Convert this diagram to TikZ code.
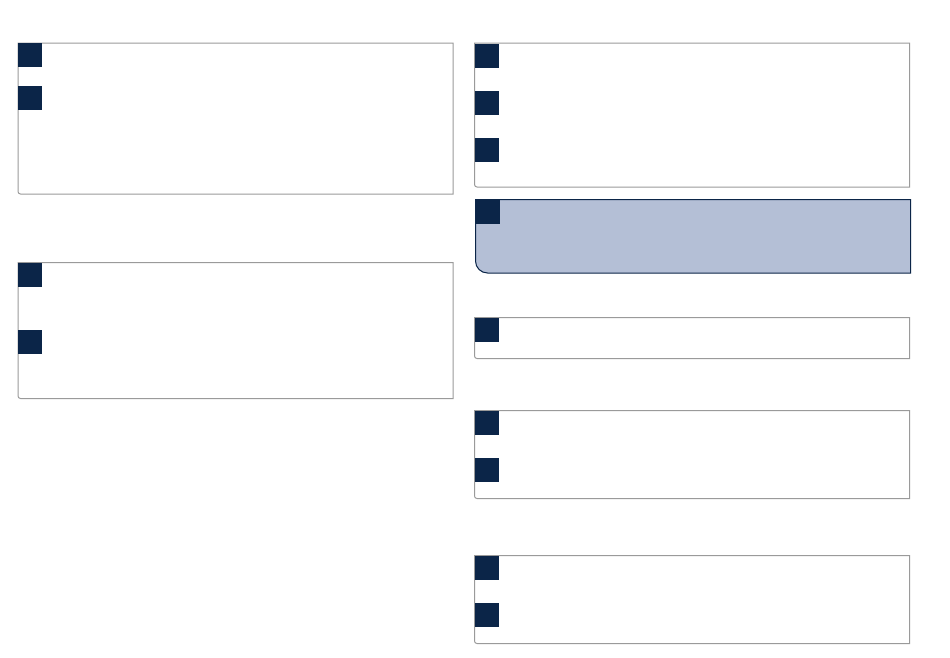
\documentclass[tikz,border=0pt]{standalone}
\definecolor{navy}{HTML}{0B2548}
\definecolor{panelblue}{HTML}{B4BFD6}
\definecolor{framegray}{HTML}{9A9A9A}
\tikzset{
  frame/.style={draw=framegray, line width=1pt},
  hiframe/.style={draw=navy, fill=panelblue, line width=1pt},
  marker/.style={fill=navy, draw=none, minimum width=24pt, minimum height=24pt, inner sep=0pt, anchor=north west}
}
\begin{document}
\begin{tikzpicture}[x=1pt,y=-1pt]
\useasboundingbox (0,0) rectangle (950,657);
% left column
\draw[frame] (18,43) -- (453,43) -- (453,194) [rounded corners=2.5pt] -- (18,194) [sharp corners] -- cycle;
\node[marker] (l1a) at (18,43) {};
\node[marker] (l1b) at (18,86) {};
\draw[frame] (18,262.5) -- (453,262.5) -- (453,398.5) [rounded corners=2.5pt] -- (18,398.5) [sharp corners] -- cycle;
\node[marker] (l2a) at (18,262.5) {};
\node[marker] (l2b) at (18,330) {};
% right column
\draw[frame] (474.5,43) -- (909.5,43) -- (909.5,187) [rounded corners=2.5pt] -- (474.5,187) [sharp corners] -- cycle;
\node[marker] (r1a) at (474.5,43.3) {};
\node[marker] (r1b) at (474.5,90.3) {};
\node[marker] (r1c) at (474.5,137.5) {};
\draw[hiframe] (475.5,199.5) -- (910.5,199.5) -- (910.5,273) [rounded corners=12pt] -- (475.5,273) [sharp corners] -- cycle;
\node[marker] (r2a) at (475.5,199.5) {};
\draw[frame] (474.5,317.5) -- (909.5,317.5) -- (909.5,358.5) [rounded corners=2.5pt] -- (474.5,358.5) [sharp corners] -- cycle;
\node[marker] (r3a) at (474.5,317.5) {};
\draw[frame] (474.5,410.5) -- (909.5,410.5) -- (909.5,498.5) [rounded corners=2.5pt] -- (474.5,498.5) [sharp corners] -- cycle;
\node[marker] (r4a) at (474.5,410.5) {};
\node[marker] (r4b) at (474.5,457.5) {};
\draw[frame] (474.5,555.5) -- (909.5,555.5) -- (909.5,643.5) [rounded corners=2.5pt] -- (474.5,643.5) [sharp corners] -- cycle;
\node[marker] (r5a) at (474.5,555.5) {};
\node[marker] (r5b) at (474.5,602.5) {};
\end{tikzpicture}
\end{document}
